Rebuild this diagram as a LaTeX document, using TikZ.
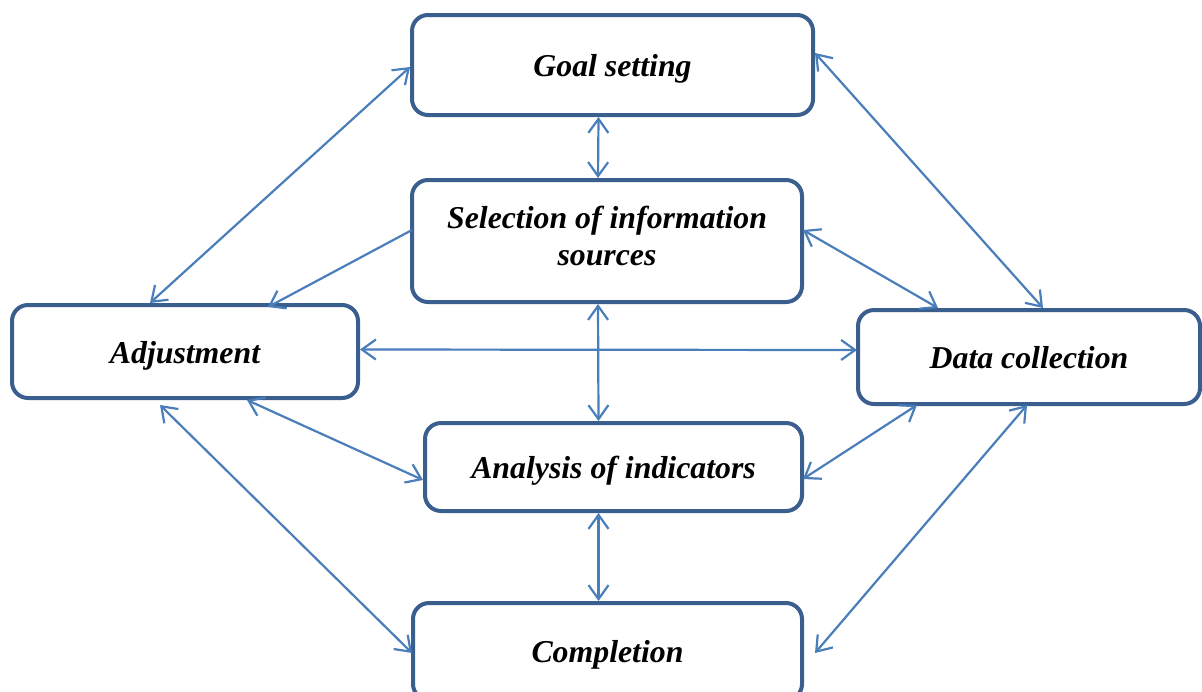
\documentclass[tikz,border=0pt]{standalone}
\usepackage{fontspec}
\setmainfont{Liberation Serif}
\usetikzlibrary{arrows.meta,calc}
\definecolor{boxblue}{HTML}{3A5F8E}
\definecolor{arrowblue}{HTML}{4A7EBB}
\newcommand{\boxlbl}[2]{\raisebox{#1}[0pt][0pt]{#2}}
\begin{document}
\begin{tikzpicture}[x=0.5pt,y=-0.5pt,
  box/.style={draw=boxblue, line width=2pt, rounded corners=8pt, fill=white,
    font=\fontsize{15.9}{18.5}\selectfont\bfseries\itshape,
    inner sep=0pt, outer sep=0pt},
  conn/.style={draw=arrowblue, line width=1.1pt},
  >={Straight Barb[length=7pt,width=10pt]}]
\useasboundingbox (0,0) rectangle (1202,691);
\clip (0,0) rectangle (1202,691);
\node[box, minimum width=200.5pt, minimum height=50pt] (goal) at (612.5,65) {\boxlbl{-5.5pt}{Goal setting}};
\node[box, minimum width=195pt, minimum height=61pt] (sel) at (607,241) {\boxlbl{-12pt}{\begin{tabular}[b]{@{}c@{}}Selection of information\\sources\end{tabular}}};
\node[box, minimum width=173pt, minimum height=46.5pt] (adj) at (185,351.5) {\boxlbl{-5.75pt}{Adjustment}};
\node[box, minimum width=171pt, minimum height=47pt] (data) at (1029,357) {\boxlbl{-5.5pt}{Data collection}};
\node[box, minimum width=188.5pt, minimum height=44pt] (ana) at (613.5,467) {\boxlbl{-5.5pt}{Analysis of indicators}};
\node[box, minimum width=194.5pt, minimum height=48.5pt] (comp) at (607.5,651.5) {\boxlbl{-5.5pt}{Completion}};
% connectors
\draw[conn,<->] ($(adj.north west)+(138,-2)$) -- ($(goal.west)+(-2,2)$);
\draw[conn,->] ($(sel.west)+(0,-11)$) -- ($(adj.north west)+(256,2)$);
\draw[conn,<->] ($(goal.south)+(-14,2)$) -- ($(sel.north)+(-9,-2)$);
\draw[conn,<->] ($(goal.east)+(2,-12)$) -- ($(data.north west)+(185,-2)$);
\draw[conn,<->] ($(sel.east)+(1,-11)$) -- ($(data.north west)+(80,-2)$);
\draw[conn,<->] ($(adj.east)+(2,-2)$) -- ($(data.west)+(-1,-7)$);
\draw[conn,<->] ($(sel.south)+(-9,2)$) -- ($(ana.north)+(-15,-2)$);
\draw[conn,<->] ($(adj.south west)+(235,2)$) -- ($(ana.west)+(-2,13)$);
\draw[conn,<->] ($(ana.east)+(1,12)$) -- ($(data.south west)+(59,1)$);
\draw[conn,<->] ($(adj.south west)+(148,7)$) -- ($(comp.north west)+(-1,50)$);
\draw[conn,<->] ($(ana.south)+(-15,2)$) -- ($(comp.north)+(-9,-2)$);
\draw[conn,<->] ($(data.south west)+(169,1)$) -- ($(comp.north east)+(13,50)$);
\end{tikzpicture}
\end{document}
